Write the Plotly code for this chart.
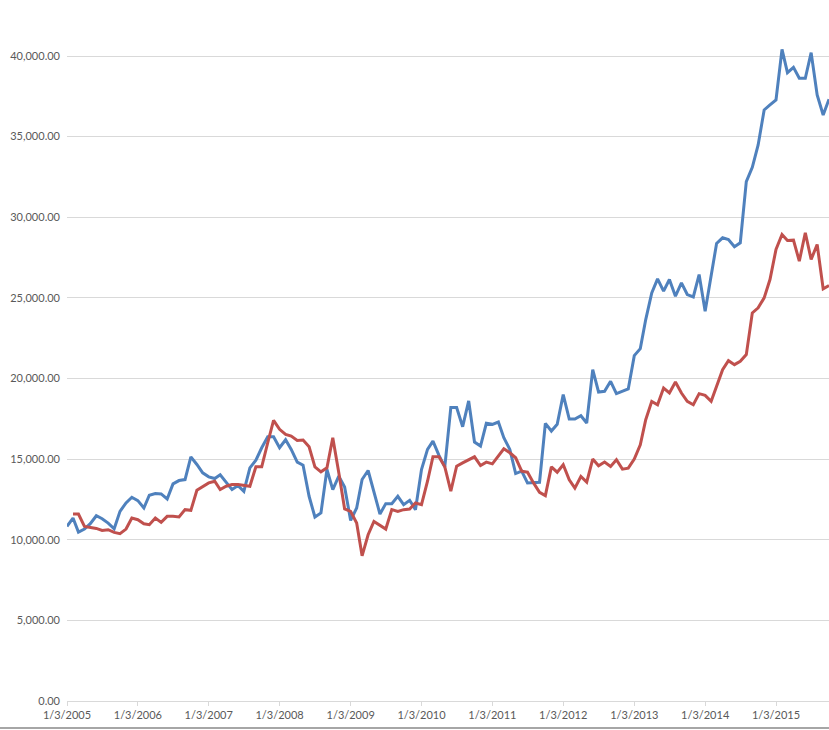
import pandas as pd
import plotly.graph_objects as go

# monthly observations, Jan 2005 .. Oct 2015 (dated the 3rd of each month)
dates = pd.date_range("2005-01-01", periods=130, freq="MS") + pd.Timedelta(days=2)

blue_vals = [
    10829, 11347, 10476, 10663, 11000, 11490, 11306, 11036, 10683, 11762,
    12281, 12634, 12426, 11970, 12758, 12862, 12841, 12530, 13466, 13671,
    13733, 15144, 14667, 14148, 13900, 13796, 14024, 13526, 13111, 13360,
    13007, 14460, 14937, 15705, 16390, 16390, 15705, 16200, 15600, 14812,
    14626, 12696, 11410, 11659, 14356, 13111, 13941, 13277, 11202, 11970,
    13734, 14294, 12904, 11596, 12240, 12240, 12696, 12177, 12447, 11866,
    14356, 15601, 16120, 15228, 14522, 18195, 18195, 17012, 18610, 16058,
    15809, 17220, 17157, 17302, 16327, 15601, 14107, 14252, 13526, 13526,
    13568, 17220, 16742, 17157, 18997, 17486, 17486, 17693, 17238, 20550,
    19163, 19204, 19825, 19059, 19204, 19349, 21419, 21854, 23655, 25311,
    26180, 25414, 26139, 25104, 25932, 25207, 25062, 26449, 24172, 26346,
    28374, 28726, 28623, 28167, 28416, 32211, 33100, 34484, 36653, 36963,
    37273, 40413, 38967, 39298, 38616, 38616, 40207, 37583, 36343, 37314,
]

red_vals = [
    None, 11596, 11596, 10829, 10787, 10704, 10580, 10621, 10455, 10372,
    10663, 11347, 11243, 10995, 10932, 11347, 11077, 11451, 11451, 11410,
    11866, 11825, 13070, 13277, 13526, 13630, 13111, 13318, 13422, 13422,
    13360, 13318, 14522, 14522, 16016, 17406, 16846, 16535, 16431, 16161,
    16182, 15767, 14522, 14211, 14460, 16327, 14149, 11908, 11762, 11036,
    9003, 10310, 11140, 10870, 10663, 11866, 11762, 11866, 11908, 12281,
    12177, 13630, 15145, 15145, 14522, 13007, 14564, 14771, 14979, 15145,
    14605, 14813, 14709, 15228, 15643, 15394, 15083, 14252, 14190, 13526,
    12945, 12738, 14522, 14190, 14650, 13718, 13201, 13926, 13574, 15002,
    14588, 14816, 14547, 14961, 14381, 14443, 15002, 15892, 17447, 18583,
    18376, 19411, 19100, 19784, 19100, 18583, 18376, 19059, 18956, 18583,
    19514, 20550, 21108, 20860, 21067, 21481, 24068, 24379, 25000, 26139,
    28002, 28933, 28560, 28581, 27277, 29037, 27381, 28312, 25559, 25766,
]

tick_years = list(range(2005, 2016))
tick_dates = [f"{y}-01-03" for y in tick_years]
tick_labels = [f"1/3/{y}" for y in tick_years]

fig = go.Figure()
fig.add_trace(go.Scatter(x=dates, y=blue_vals, mode="lines",
                         line=dict(color="#4f81bd", width=3)))
fig.add_trace(go.Scatter(x=dates, y=red_vals, mode="lines",
                         line=dict(color="#c0504d", width=3)))

fig.update_layout(
    width=829, height=730,
    margin=dict(l=67, r=0, t=0, b=29),
    paper_bgcolor="white", plot_bgcolor="white",
    showlegend=False,
    font=dict(family="Lato", size=11, color="#595959"),
    xaxis=dict(
        range=[dates[0], dates[-1]],
        tickvals=tick_dates, ticktext=tick_labels,
        showgrid=False, showline=True, linecolor="#d9d9d9", linewidth=1,
        ticks="outside", ticklen=4, tickcolor="#d9d9d9",
        zeroline=False, automargin=False,
    ),
    yaxis=dict(
        range=[0, 43473],
        tickvals=list(range(0, 40001, 5000)),
        tickformat=",.2f",
        showgrid=True, gridcolor="#d9d9d9", gridwidth=1,
        zeroline=False, showline=False, ticks="",
        ticklabelstandoff=6, automargin=False,
    ),
)
# grey frame edge along the bottom of the chart area
fig.add_shape(type="line", xref="paper", yref="paper",
              x0=-0.1, x1=1.0, y0=-0.0385, y1=-0.0385,
              line=dict(color="#a6a6a6", width=2))

# page body margin would push the figure 8px off the window
fig.write_html("out.html", config={"displayModeBar": False},
               post_script="document.body.style.margin='0';")
